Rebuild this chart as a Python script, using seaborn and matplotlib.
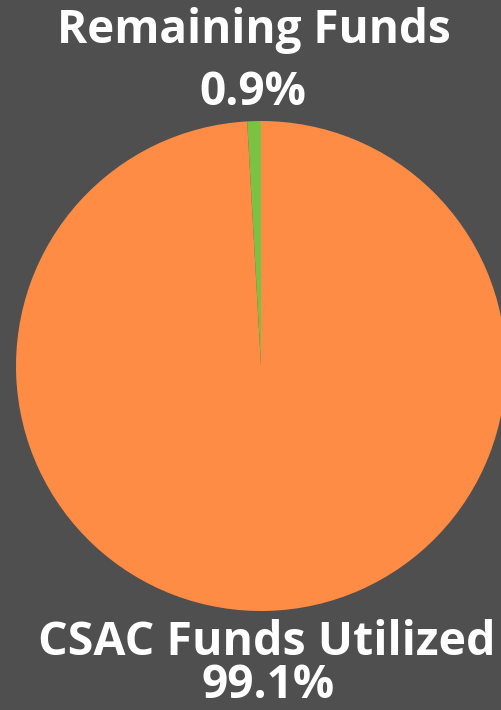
import matplotlib
matplotlib.use("Agg")
import matplotlib.pyplot as plt
import seaborn as sns

# Share of CSAC funds
categories = ["Remaining Funds", "CSAC Funds Utilized"]
shares = [0.9, 99.1]
share_labels = ["0.9%", "99.1%"]

sns.set_theme(style="white")
plt.rcParams["font.family"] = ["Open Sans", "DejaVu Sans"]

bg = "#4f4f4f"
colors = sns.color_palette(["#7bc142", "#ff8c45"])

W, H = 501, 710
fig = plt.figure(figsize=(W / 100, H / 100), dpi=100, facecolor=bg)

# Pie centred at (261, 366) px with radius 245 px
cx, cy, r = 261, 366, 245
ax = fig.add_axes([(cx - r) / W, (H - cy - r) / H, 2 * r / W, 2 * r / H])
ax.set_facecolor(bg)
ax.pie(shares, colors=colors, startangle=90, counterclock=True,
       radius=1.0, wedgeprops=dict(linewidth=0))
ax.set_xlim(-1, 1)
ax.set_ylim(-1, 1)
ax.set_aspect("equal")
ax.axis("off")

def px_text(x, y, s, size):
    fig.text(x / W, 1 - y / H, s, ha="center", va="baseline",
             color="white", fontsize=size, fontweight="bold")

px_text(254, 43, categories[0], 33)
px_text(253, 105, share_labels[0], 33)
px_text(267, 655, categories[1], 33.5)
px_text(268, 698, share_labels[1], 33)

fig.savefig("out.png", dpi=100, facecolor=bg)
